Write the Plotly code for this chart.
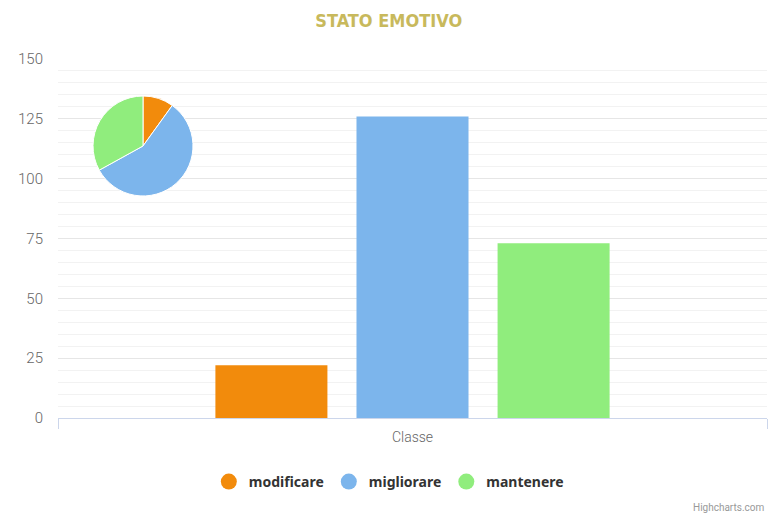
import plotly.graph_objects as go

# Data
categories = ["Classe"]
series_names = ["modificare", "migliorare", "mantenere"]
series_values = [22, 126, 73]
series_colors = ["#f28b0c", "#7cb5ec", "#90ed7d"]

W, H = 773, 517
margin = dict(l=58, r=6, t=59, b=99)

fig = go.Figure()

# Bars (legend handled by the circle proxies below)
for name, val, col in zip(series_names, series_values, series_colors):
    fig.add_trace(go.Bar(
        x=categories,
        y=[val],
        name=name,
        marker=dict(color=col, line=dict(width=0)),
        legendgroup=name,
        showlegend=False,
        hoverinfo="y+name",
    ))

# Circle symbols for the legend, like Highcharts
for name, col in zip(series_names, series_colors):
    fig.add_trace(go.Scatter(
        x=categories,
        y=[None],
        mode="markers",
        name=name,
        marker=dict(color=col, size=16, symbol="circle"),
        legendgroup=name,
        showlegend=True,
    ))

# Small pie in the top-left corner of the plot area
fig.add_trace(go.Pie(
    labels=series_names,
    values=series_values,
    marker=dict(colors=series_colors, line=dict(color="white", width=1)),
    sort=False,
    direction="clockwise",
    rotation=0,
    textinfo="none",
    showlegend=False,
    domain=dict(x=[0.0494, 0.1904], y=[0.6184, 0.897]),
))

fig.update_layout(
    width=W,
    height=H,
    margin=margin,
    paper_bgcolor="white",
    plot_bgcolor="white",
    barmode="group",
    bargap=0.403,
    bargroupgap=0.206,
    title=dict(
        text="<b>STATO EMOTIVO</b>",
        x=0.503,
        xref="container",
        xanchor="center",
        y=1 - 21 / H,
        yref="container",
        yanchor="middle",
        font=dict(family="DejaVu Sans Condensed, Liberation Sans Narrow, DejaVu Sans", size=18, color="#c8b95c"),
    ),
    legend=dict(
        orientation="h",
        x=0.503,
        xanchor="center",
        xref="container",
        y=1 - 482 / H,
        yanchor="middle",
        yref="container",
        font=dict(family="Noto Sans", size=14, color="#333333", weight="bold"),
        bgcolor="rgba(0,0,0,0)",
    ),
    font=dict(family="Roboto", color="#666666"),
    showlegend=True,
)

fig.update_xaxes(
    type="category",
    automargin=False,
    showline=True,
    linecolor="#ccd6eb",
    linewidth=1,
    ticks="outside",
    tickson="boundaries",
    ticklen=10,
    tickcolor="#ccd6eb",
    showgrid=False,
    ticklabelstandoff=6,
    tickfont=dict(family="Roboto", size=14, color="#666666", weight=300),
)

fig.update_yaxes(
    range=[0, 150],
    tickvals=[0, 25, 50, 75, 100, 125, 150],
    automargin=False,
    showgrid=True,
    gridcolor="#e6e6e6",
    gridwidth=1,
    zeroline=False,
    showline=False,
    ticklabelstandoff=14,
    tickfont=dict(family="Roboto", size=15, color="#666666", weight=300),
    minor=dict(dtick=5, showgrid=True, gridcolor="#f2f2f2", gridwidth=1),
)

fig.add_annotation(
    text="Highcharts.com",
    xref="paper", yref="paper",
    x=1, y=-(507 - 418) / 359,
    xanchor="right", yanchor="middle",
    showarrow=False,
    font=dict(family="Roboto", size=10, color="#999999"),
)

fig.write_html("out.html", config={"displayModeBar": False},
               post_script="document.body.style.margin='0';")
